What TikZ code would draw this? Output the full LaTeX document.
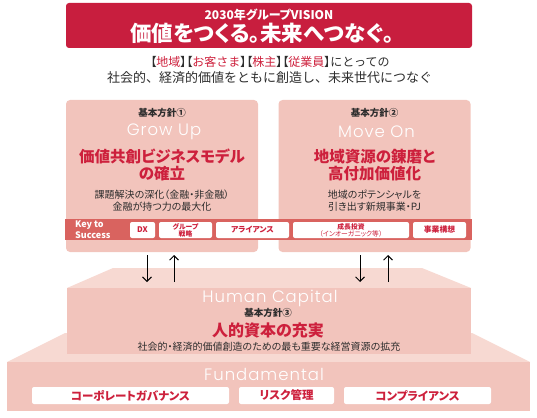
\documentclass[tikz,border=0pt]{standalone}
\usepackage{fontspec}
\usetikzlibrary{arrows.meta}
\setmainfont{Noto Sans CJK JP}
\newfontfamily\jp{Noto Sans CJK JP}
\newfontfamily\jpp{Noto Sans CJK JP}[RawFeature=+palt]
\newfontfamily\thinf{Poppins Light}[LetterSpace=6]
\newcommand{\lbr}{{\jpp 【}}
\newcommand{\rbr}{{\jpp 】}}
\definecolor{vred}{RGB}{200,30,62}
\definecolor{tred}{RGB}{205,32,60}
\definecolor{panelpink}{RGB}{242,196,188}
\definecolor{lightpink}{RGB}{247,217,210}
\definecolor{keyband}{RGB}{217,99,95}
\definecolor{darktxt}{RGB}{45,45,45}
\tikzset{
  panelbox/.style={fill=panelpink, rounded corners=4pt, minimum width=192pt, minimum height=152pt, inner sep=0pt},
  keybox/.style={fill=white, rounded corners=2pt, minimum height=16pt, inner sep=0pt, text=tred, font=\jpp\bfseries\fontsize{7.8}{8}\selectfont, align=center},
  keybox2/.style={keybox, font=\jpp\bfseries\fontsize{6.8}{7.2}\selectfont},
  fundbox/.style={fill=white, rounded corners=2pt, minimum height=17pt, inner sep=0pt, text=tred, font=\jpp\bfseries\fontsize{11.5}{12}\selectfont},
  smalldark/.style={text=darktxt, font=\jpp\fontsize{10}{11}\selectfont, inner sep=0pt},
  hoshin/.style={text=darktxt, font=\jpp\bfseries\fontsize{9.5}{10}\selectfont, inner sep=0pt},
  thintitle/.style={text=white, font=\thinf\fontsize{16.5}{18}\selectfont, inner sep=0pt},
  redhead/.style={text=tred, font=\jpp\bfseries\fontsize{15.5}{17}\selectfont, inner sep=0pt},
  arr/.style={line width=0.9pt, -{Straight Barb[length=4.5pt,width=9pt]}}
}
\begin{document}
\begin{tikzpicture}[x=1pt,y=-1pt,font=\jp]
\useasboundingbox (0,0) rectangle (537,417);
% Fundamental base
\fill[lightpink] (7,362) -- (65,333) -- (472,333) -- (530,362) -- cycle;
\node[fill=panelpink, minimum width=523pt, minimum height=49pt, inner sep=0pt] (fund) at (268.5,386.5) {};
% Human capital
\fill[lightpink] (67,288) -- (113,268) -- (422,268) -- (471,288) -- cycle;
\node[fill=panelpink, minimum width=404pt, minimum height=66pt, inner sep=0pt] (hc) at (269,321) {};
% Panels
\node[panelbox] (p1) at (162,176) {};
\node[panelbox] (p2) at (374.5,176) {};
% Key band
\node[fill=keyband, minimum width=407pt, minimum height=21pt, inner sep=0pt] (key) at (268.5,229.5) {};
\node[anchor=west, text=white, font=\jpp\bfseries\fontsize{9}{10.5}\selectfont, align=left, inner sep=0pt] (keytxt) at (75,229.5) {Key to\\Success};
\node[keybox, minimum width=25pt] (k1) at (142.5,230) {DX};
\node[keybox2, minimum width=53pt] (k2) at (185.5,230) {グループ\\戦略};
\node[keybox, minimum width=73pt] (k3) at (252.5,230) {アライアンス};
\node[keybox2, minimum width=116pt] (k4) at (351,230) {成長投資\\{\mdseries（インオーガニック等）}};
\node[keybox, minimum width=53pt] (k5) at (439.5,230) {事業構想};
% Banner
\node[fill=vred, rounded corners=3pt, minimum width=406pt, minimum height=45pt, inner sep=0pt] (banner) at (269,25.5) {};
\node[text=white, font=\jpp\bfseries\fontsize{12}{13}\selectfont, inner sep=0pt] (vis) at (269,15) {2030年グループVISION};
\node[text=white, font=\jpp\bfseries\fontsize{21.5}{23}\selectfont, inner sep=0pt] (slogan) at (262,33.5) {価値をつくる。未来へつなぐ。};
% Sub lines
\node[text=darktxt, font=\jp\fontsize{12}{14}\selectfont, inner sep=0pt] (l1) at (270,62) {\lbr{\color{tred}地域}\rbr\lbr{\color{tred}お客さま}\rbr\lbr{\color{tred}株主}\rbr\lbr{\color{tred}従業員}\rbr にとっての};
\node[text=darktxt, font=\jp\fontsize{13}{14}\selectfont, inner sep=0pt] (l2) at (269.5,78) {社会的、経済的価値をともに創造し、未来世代につなぐ};
% Left panel text
\node[hoshin] (h1) at (162,113) {基本方針①};
\node[thintitle] (g1) at (164,132) {Grow Up};
\node[redhead] (r1a) at (162,156) {価値共創ビジネスモデル};
\node[redhead] (r1b) at (162,174) {の確立};
\node[smalldark] (s1a) at (162,195) {課題解決の深化（金融・非金融）};
\node[smalldark] (s1b) at (162,207) {金融が持つ力の最大化};
% Right panel text
\node[hoshin] (h2) at (374.5,113) {基本方針②};
\node[thintitle] (g2) at (376.5,132) {Move On};
\node[redhead] (r2a) at (374.5,157) {地域資源の錬磨と};
\node[redhead] (r2b) at (374.5,174) {高付加価値化};
\node[smalldark] (s2a) at (374.5,195) {地域のポテンシャルを};
\node[smalldark] (s2b) at (374.5,207) {引き出す新規事業・PJ};
% Arrows
\coordinate (a1s) at (147,255); \coordinate (a1e) at (147,282);
\coordinate (a2s) at (174,282); \coordinate (a2e) at (174,255);
\coordinate (a3s) at (360,255); \coordinate (a3e) at (360,282);
\coordinate (a4s) at (388,282); \coordinate (a4e) at (388,255);
\draw[arr] (a1s) -- (a1e);
\draw[arr] (a2s) -- (a2e);
\draw[arr] (a3s) -- (a3e);
\draw[arr] (a4s) -- (a4e);
% Human capital text
\node[thintitle] (hct) at (270,298) {Human Capital};
\node[hoshin] (h3) at (268,313) {基本方針③};
\node[redhead, font=\jpp\bfseries\fontsize{16}{17}\selectfont] (r3) at (268,330) {人的資本の充実};
\node[smalldark] (s3) at (269,347) {社会的・経済的価値創造のための最も重要な経営資源の拡充};
% Fundamental text
\node[thintitle] (fdt) at (264,374) {Fundamental};
\node[fundbox, minimum width=197pt] (f1) at (130.5,395.5) {コーポレートガバナンス};
\node[fundbox, minimum width=95pt] (f2) at (286.5,395.5) {リスク管理};
\node[fundbox, minimum width=147pt] (f3) at (417.5,395.5) {コンプライアンス};
\end{tikzpicture}
\end{document}
